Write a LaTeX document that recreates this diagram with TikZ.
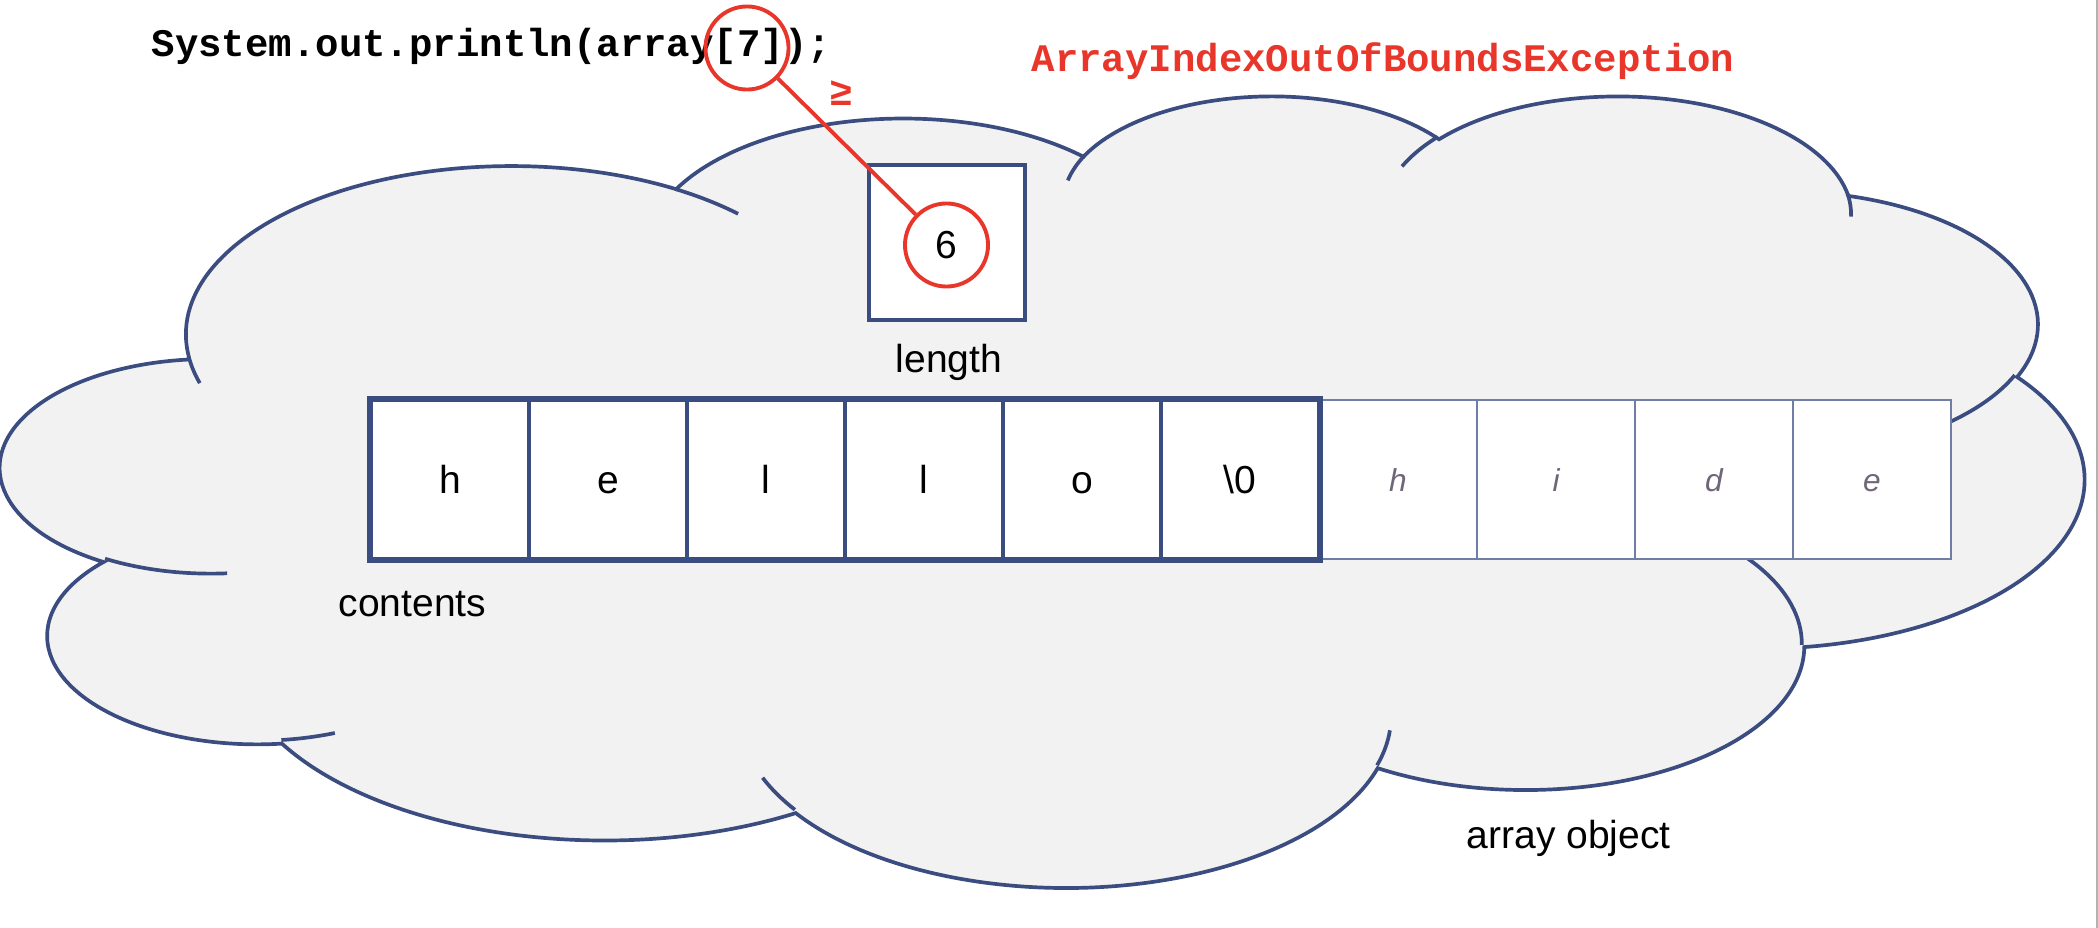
\documentclass[tikz,border=0pt]{standalone}
\usepackage{fontspec}
\setmainfont{Liberation Sans}
\newfontfamily\codefont{Liberation Mono}

\definecolor{cloudline}{RGB}{59,76,128}
\definecolor{cloudfill}{RGB}{242,242,242}
\definecolor{alarm}{RGB}{232,54,42}
\definecolor{hidden}{RGB}{112,102,122}
\definecolor{thinline}{RGB}{112,126,166}

\tikzset{
  lbl/.style={inner sep=0pt, font=\fontsize{11.1}{13}\selectfont},
  code/.style={inner sep=0pt, font=\codefont\bfseries\fontsize{11.1}{13}\selectfont},
  tail/.style={draw=cloudline, line width=1.05pt},
  cell/.style={draw=cloudline, line width=0.9pt, fill=white, minimum width=1.58cm,
    minimum height=1.59cm, inner sep=0pt, text height=0.27cm, text depth=0pt,
    font=\fontsize{11.1}{13}\selectfont},
  hidecell/.style={draw=thinline, line width=0.4pt, fill=white, minimum width=1.58cm,
    minimum height=1.59cm, inner sep=0pt, text height=0.23cm, text depth=0pt,
    text=hidden, font=\itshape\fontsize{9}{11}\selectfont},
  lenbox/.style={draw=cloudline, line width=1.2pt, fill=white, minimum width=1.56cm,
    minimum height=1.55cm},
  ring/.style={circle, draw=alarm, line width=1.1pt, minimum size=0.83cm, inner sep=0pt,
    font=\fontsize{11.1}{13}\selectfont}
}

\begin{document}
\begin{tikzpicture}[x=0.01cm, y=-0.01cm]
  \useasboundingbox (0,0) rectangle (2098,928);

  % the cloud
  \path[draw=cloudline, fill=cloudfill, line width=1.05pt] (188.9,357.1)
    arc[start angle=187.74, end angle=59.61, x radius=3.2536cm, y radius=1.6827cm]
    arc[start angle=152.02, end angle=45.49, x radius=2.5694cm, y radius=1.3306cm]
    arc[start angle=153.49, end angle=37.32, x radius=2.1031cm, y radius=1.0885cm]
    arc[start angle=139.81, end angle=10.18, x radius=2.3401cm, y radius=1.2075cm]
    arc[start angle=74.78, end angle=-23.23, x radius=2.5694cm, y radius=1.3317cm]
    arc[start angle=37.50, end angle=-81.85, x radius=3.2642cm, y radius=1.6882cm]
    arc[start angle=-0.459, end angle=-121.99, x radius=2.7872cm, y radius=1.4404cm]
    arc[start angle=-16.87, end angle=-146.20, x radius=3.2531cm, y radius=1.6873cm]
    arc[start angle=-59.09, end angle=-150.11, x radius=3.7195cm, y radius=1.9304cm]
    arc[start angle=276.72, end angle=137.01, x radius=2.1006cm, y radius=1.0836cm]
    arc[start angle=239.76, end angle=95.86, x radius=2.0934cm, y radius=1.0885cm]
    -- cycle;

  \path[tail] (227.1,573.3) arc[start angle=-85.55, end angle=-120.34, x radius=2.0934cm, y radius=1.0885cm];
  \path[tail] (334.8,733.0) arc[start angle=-68.23, end angle=-83.31, x radius=2.1006cm, y radius=1.0836cm];
  \path[tail] (794.9,809.7) arc[start angle=-146.20, end angle=-158.48, x radius=3.2531cm, y radius=1.6873cm];
  \path[tail] (1389.9,730.3) arc[start angle=-4.74, end angle=-16.87, x radius=3.2531cm, y radius=1.6873cm];
  \path[tail] (1645.3,514.3) arc[start angle=63.97, end angle=-0.459, x radius=2.7872cm, y radius=1.4404cm];
  \path[tail] (2014.8,375.1) arc[start angle=-23.21, end angle=-49.67, x radius=2.5694cm, y radius=1.3317cm];
  \path[tail] (1847.4,193.4) arc[start angle=10.21, end angle=-0.82, x radius=2.3401cm, y radius=1.2075cm];
  \path[tail] (1402.0,166.4) arc[start angle=156.28, end angle=139.71, x radius=2.3401cm, y radius=1.2075cm];
  \path[tail] (1067.8,180.4) arc[start angle=167.73, end angle=153.49, x radius=2.1031cm, y radius=1.0885cm];
  \path[tail] (675.5,189.1) arc[start angle=59.61, end angle=45.72, x radius=3.2536cm, y radius=1.6827cm];
  \path[tail] (199.8,383.1) arc[start angle=-163.19, end angle=-172.26, x radius=3.2536cm, y radius=1.6827cm];

  % contents
  \begin{scope}[every node/.style={hidecell}]
    \node (7)  at (1398,479.5) {h};
    \node (8)  at (1556,479.5) {i};
    \node (9)  at (1714,479.5) {d};
    \node (10) at (1872,479.5) {e};
  \end{scope}

  \begin{scope}[every node/.style={cell}]
    \node (1) at (450,479.5)  {h};
    \node (2) at (608,479.5)  {e};
    \node (3) at (766,479.5)  {l};
    \node (4) at (924,479.5)  {l};
    \node (5) at (1082,479.5) {o};
    \node (6) at (1240,479.5) {\textbackslash 0};
  \end{scope}
  \draw[cloudline, line width=1.25pt] (1.north west) rectangle (6.south east);

  % length
  \node[lenbox] (len) at (947,242.5) {};
  \node[ring] (six) at (946.5,245) {6};

  \node[code, anchor=base west] (call) at (151,57) {System.out.println(array[7]);};
  \node[code, text=alarm, anchor=base west] (oob) at (1031,72) {ArrayIndexOutOfBoundsException};
  \node[ring] (seven) at (747,48) {};
  \node[code, text=alarm] (geq) at (841,93) {≥};

  \path (seven) edge[draw=alarm, line width=1.1pt] (six);

  \node[lbl, anchor=base] (lenlbl) at (949,373) {length};
  \node[lbl, anchor=base west] (contlbl) at (338,616) {contents};
  \node[lbl, anchor=base west] (objlbl) at (1466,848) {array object};

  \draw[black!30, line width=0.4pt] (2097,0) -- (2097,928);
\end{tikzpicture}
\end{document}
